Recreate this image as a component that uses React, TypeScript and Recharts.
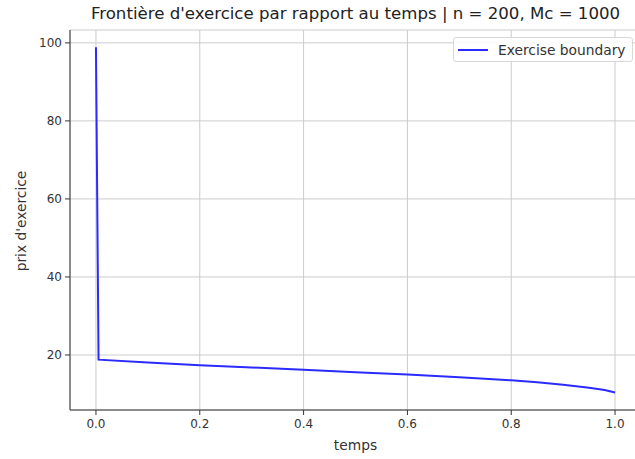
import React from "react";
import { LineChart, Line, XAxis, YAxis, CartesianGrid } from "recharts";

// temps (t) and prix d'exercice
const temps = [0, 0.005, 0.1, 0.2, 0.3, 0.4, 0.5, 0.6, 0.7, 0.8, 0.85, 0.9, 0.95, 0.98, 1.0];
const boundary = [98.9, 18.8, 18.1, 17.4, 16.8, 16.2, 15.6, 15.0, 14.3, 13.5, 13.0, 12.4, 11.6, 11.0, 10.4];

const xTicks = [0, 0.2, 0.4, 0.6, 0.8, 1.0];
const yTicks = [20, 40, 60, 80, 100];

const data = temps.map((t, i) => ({ t, v: boundary[i] }));

const font = "'DejaVu Sans', sans-serif";
const tickStyle = { fontSize: 12, fill: "#333", fontFamily: font };

export default function App() {
  return (
    <div
      style={{
        position: "fixed",
        top: 0,
        left: 0,
        width: 635,
        height: 459,
        overflow: "hidden",
        background: "#fff",
        fontFamily: font,
      }}
    >
      <div
        style={{
          position: "absolute",
          top: 4,
          left: 70,
          width: 571,
          textAlign: "center",
          fontSize: 16.6,
          color: "#222",
          whiteSpace: "nowrap",
        }}
      >
        Frontière d'exercice par rapport au temps | n = 200, Mc = 1000
      </div>

      <LineChart
        width={645}
        height={459}
        data={data}
        margin={{ top: 30, right: 4, bottom: 0, left: 0 }}
      >
        <CartesianGrid stroke="#cccccc" strokeWidth={1} />
        <XAxis
          dataKey="t"
          type="number"
          domain={[-0.05, 1.05]}
          ticks={xTicks}
          tickFormatter={(v: number) => v.toFixed(1)}
          tick={tickStyle}
          tickSize={5}
          tickMargin={4}
          stroke="#333"
          height={49}
          allowDataOverflow
        />
        <XAxis
          xAxisId="top"
          orientation="top"
          dataKey="t"
          type="number"
          domain={[-0.05, 1.05]}
          tick={false}
          tickLine={false}
          height={0}
          stroke="#333"
        />
        <YAxis
          type="number"
          domain={[5.9, 103.3]}
          ticks={yTicks}
          tick={tickStyle}
          tickSize={5}
          tickMargin={3}
          stroke="#333"
          width={70}
          allowDataOverflow
        />
        <Line
          dataKey="v"
          type="linear"
          stroke="#2b2bff"
          strokeWidth={2}
          dot={false}
          isAnimationActive={false}
        />
      </LineChart>

      <div
        style={{
          position: "absolute",
          left: 21,
          top: 221,
          transform: "translate(-50%, -50%) rotate(-90deg)",
          whiteSpace: "nowrap",
          fontSize: 13.8,
          color: "#333",
        }}
      >
        prix d'exercice
      </div>

      <div
        style={{
          position: "absolute",
          top: 437,
          left: 70,
          width: 571,
          textAlign: "center",
          fontSize: 13.8,
          color: "#333",
        }}
      >
        temps
      </div>

      <div
        style={{
          position: "absolute",
          left: 453,
          top: 37,
          width: 180,
          height: 25,
          border: "1px solid #d8d8d8",
          borderRadius: 3,
          background: "rgba(255,255,255,0.85)",
          display: "flex",
          alignItems: "center",
          boxSizing: "border-box",
        }}
      >
        <div
          style={{
            marginLeft: 4,
            width: 30,
            height: 2,
            background: "#2b2bff",
          }}
        />
        <span
          style={{
            marginLeft: 10,
            fontSize: 13.8,
            color: "#333",
            whiteSpace: "nowrap",
          }}
        >
          Exercise boundary
        </span>
      </div>
    </div>
  );
}
